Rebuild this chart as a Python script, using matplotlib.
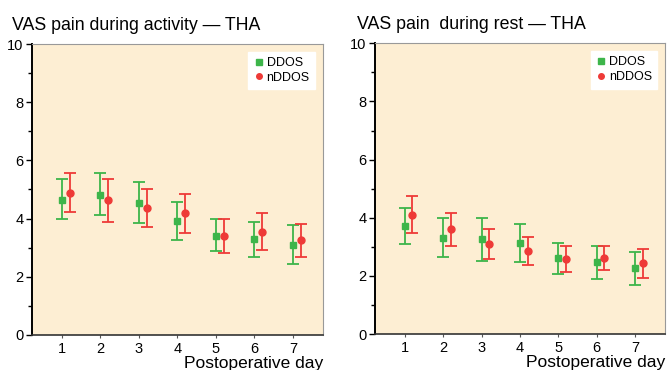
import numpy as np
import matplotlib
matplotlib.use('Agg')
import matplotlib.pyplot as plt
from matplotlib.ticker import MultipleLocator
from matplotlib.lines import Line2D

plt.rcParams['font.family'] = ['Liberation Sans', 'DejaVu Sans']

days = [1, 2, 3, 4, 5, 6, 7]

# activity panel: mean, upper bar end, lower bar end
act_ddos = [4.65, 4.82, 4.54, 3.91, 3.41, 3.28, 3.10]
act_ddos_hi = [5.36, 5.55, 5.26, 4.56, 3.98, 3.89, 3.79]
act_ddos_lo = [3.97, 4.11, 3.83, 3.26, 2.88, 2.66, 2.42]
act_nddos = [4.89, 4.63, 4.37, 4.18, 3.39, 3.54, 3.26]
act_nddos_hi = [5.55, 5.36, 5.01, 4.85, 3.98, 4.18, 3.82]
act_nddos_lo = [4.23, 3.89, 3.71, 3.51, 2.81, 2.91, 2.69]

# rest panel
rest_ddos = [3.73, 3.32, 3.26, 3.12, 2.60, 2.48, 2.27]
rest_ddos_hi = [4.34, 4.00, 4.00, 3.78, 3.15, 3.03, 2.84]
rest_ddos_lo = [3.10, 2.65, 2.52, 2.47, 2.07, 1.89, 1.69]
rest_nddos = [4.11, 3.61, 3.10, 2.86, 2.58, 2.61, 2.43]
rest_nddos_hi = [4.75, 4.17, 3.60, 3.35, 3.03, 3.02, 2.93]
rest_nddos_lo = [3.49, 3.03, 2.57, 2.36, 2.13, 2.19, 1.92]

titles = ['VAS pain during activity \u2014 THA', 'VAS pain  during rest \u2014 THA']

GREEN = '#3db54a'
RED = '#ee3a37'
BG = '#fdeed3'

fig = plt.figure(figsize=(6.67, 3.7), dpi=100)
axl = fig.add_axes([0.048, 0.095, 0.436, 0.786])
axr = fig.add_axes([0.562, 0.097, 0.435, 0.786])

panels = [
    (axl, act_ddos, act_ddos_hi, act_ddos_lo, act_nddos, act_nddos_hi, act_nddos_lo),
    (axr, rest_ddos, rest_ddos_hi, rest_ddos_lo, rest_nddos, rest_nddos_hi, rest_nddos_lo),
]

handles = [
    Line2D([], [], marker='s', linestyle='none', color=GREEN, markersize=4, label='DDOS'),
    Line2D([], [], marker='o', linestyle='none', color=RED, markersize=4, label='nDDOS'),
]

x = np.array(days, dtype=float)
for k, (ax, g, ghi, glo, r, rhi, rlo) in enumerate(panels):
    g = np.array(g); r = np.array(r)
    gerr = [g - np.array(glo), np.array(ghi) - g]
    rerr = [r - np.array(rlo), np.array(rhi) - r]
    ax.set_facecolor(BG)
    ax.errorbar(x, g, yerr=gerr, fmt='s', color=GREEN, ecolor=GREEN,
                markersize=5, elinewidth=1.3, capsize=4, capthick=1.3)
    ax.errorbar(x + 0.2, r, yerr=rerr, fmt='o', color=RED, ecolor=RED,
                markersize=5, elinewidth=1.3, capsize=4, capthick=1.3)
    ax.set_xlim(0.22, 7.78)
    ax.set_ylim(0, 10)
    ax.set_xticks(days)
    ax.yaxis.set_major_locator(MultipleLocator(2))
    ax.yaxis.set_minor_locator(MultipleLocator(1))
    ax.tick_params(axis='x', length=2, width=0.8, color='#555555', labelsize=10.5, pad=3)
    ax.tick_params(axis='y', which='major', length=4, width=1, labelsize=10.5, pad=2)
    ax.tick_params(axis='y', which='minor', length=3, width=1)
    ax.spines['left'].set_linewidth(1.4)
    ax.spines['left'].set_color('black')
    ax.spines['bottom'].set_linewidth(1.2)
    ax.spines['bottom'].set_color('#333333')
    for s in ['top', 'right']:
        ax.spines[s].set_color('#999999')
        ax.spines[s].set_linewidth(0.8)
    ax.set_xlabel('Postoperative day', fontsize=12.5, loc='right', labelpad=0)
    ax.set_title(titles[k], fontsize=12.8, loc='left', x=-0.07 if k == 0 else -0.06, pad=10)
    ax.legend(handles=handles, loc='upper right', frameon=True, fancybox=False,
              edgecolor='white', framealpha=1, fontsize=9, handletextpad=0.2,
              borderpad=0.45, labelspacing=0.2, handlelength=0.8,
              borderaxespad=0.6)

fig.savefig('out.png', dpi=100)
